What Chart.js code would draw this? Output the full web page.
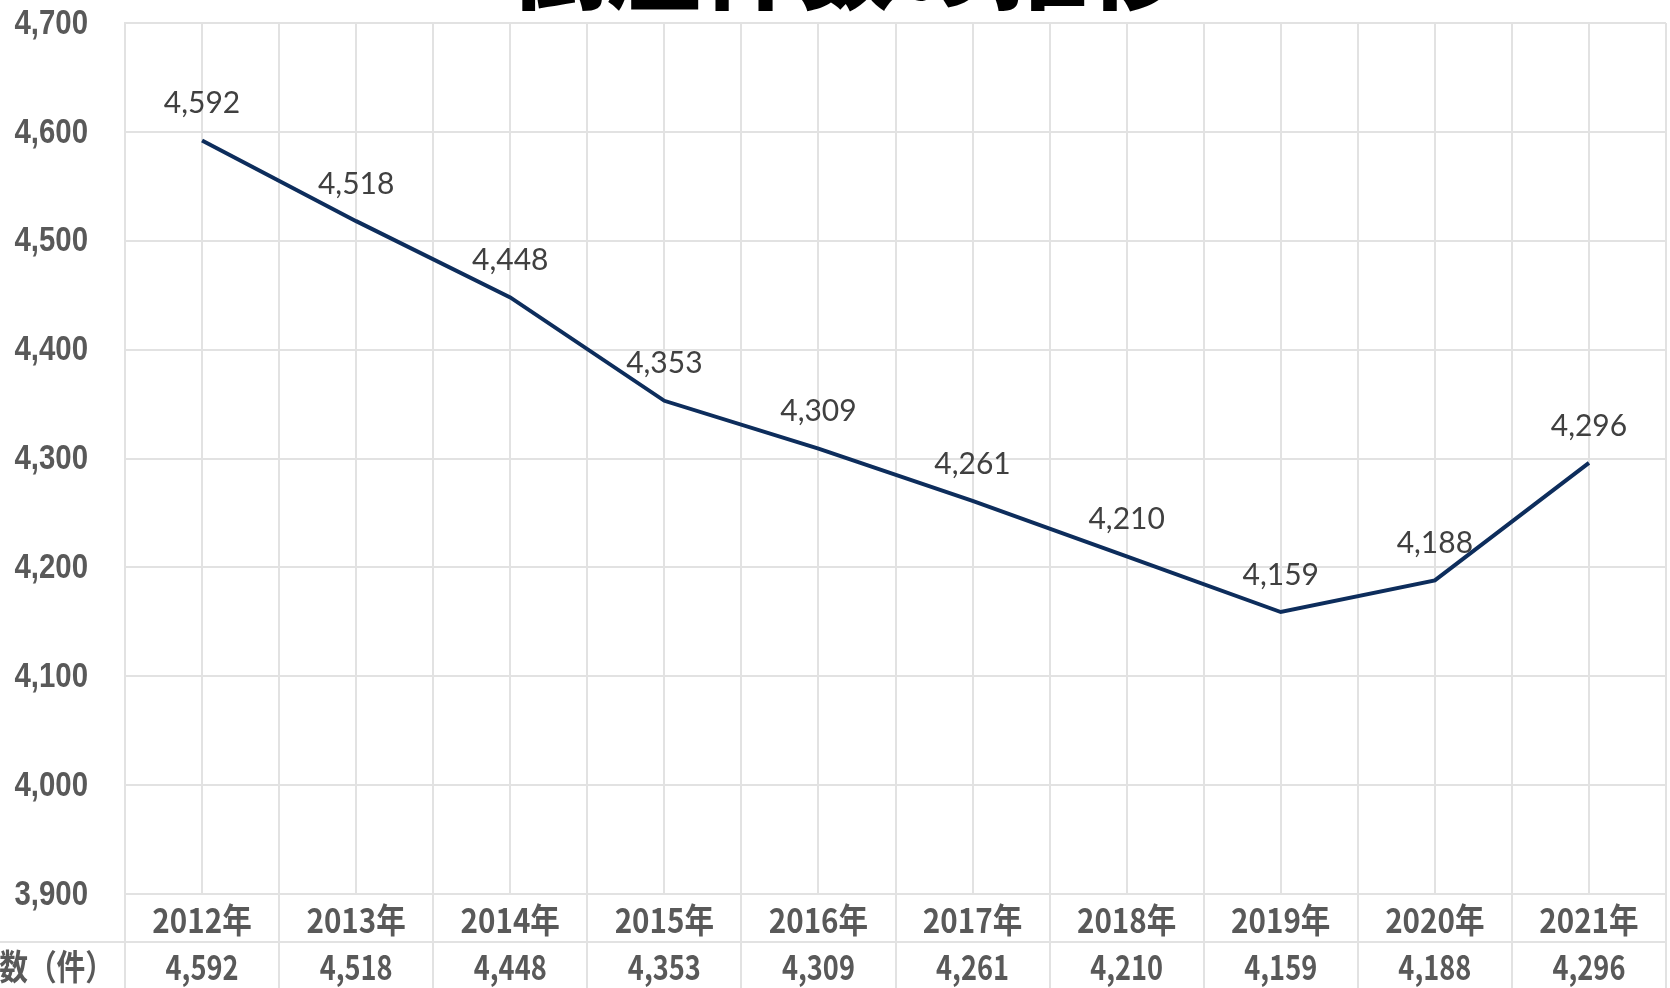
<!DOCTYPE html>
<html>
<head>
<meta charset="utf-8">
<script src="https://cdn.jsdelivr.net/npm/chart.js@4"></script>
<style>
html,body{margin:0;padding:0;background:#fff;}
#wrap{width:1670px;height:988px;position:relative;}
</style>
</head>
<body>
<div id="wrap"><canvas id="c"></canvas></div>
<script>
const titleText = '倒産件数の推移';
const categories = ['2012年','2013年','2014年','2015年','2016年','2017年','2018年','2019年','2020年','2021年'];
const values = [4592,4518,4448,4353,4309,4261,4210,4159,4188,4296];
const tableHeader = '件数（件）';
const yMin = 3900, yMax = 4700, yStep = 100;

const fmt = v => v.toLocaleString('en-US');
const gridColor = '#e2e2e2';
const textGray = '#595959';

const labelPlugin = {
  id: 'valueLabels',
  afterDatasetsDraw(chart) {
    const ctx = chart.ctx;
    const meta = chart.getDatasetMeta(0);
    ctx.save();
    ctx.font = "400 30px Lato, 'Open Sans', sans-serif";
    ctx.fillStyle = '#404040';
    ctx.textAlign = 'center';
    ctx.textBaseline = 'middle';
    meta.data.forEach((pt, i) => {
      ctx.fillText(fmt(values[i]), pt.x, pt.y - 37);
    });
    ctx.restore();
  }
};

const yLabelPlugin = {
  id: 'yLabels',
  afterDraw(chart) {
    const ctx = chart.ctx;
    const ys = chart.scales.y;
    ctx.save();
    ctx.fillStyle = textGray;
    ctx.textAlign = 'right';
    ctx.textBaseline = 'middle';
    ctx.font = "bold 35px 'Liberation Sans', Arial, sans-serif";
    ys.ticks.forEach(t => {
      const y = ys.getPixelForValue(t.value);
      ctx.save();
      ctx.translate(88, y + 1);
      ctx.scale(0.84, 1);
      ctx.fillText(fmt(t.value), 0, 0);
      ctx.restore();
    });
    ctx.restore();
  }
};

const tablePlugin = {
  id: 'dataTable',
  afterDraw(chart) {
    const ctx = chart.ctx;
    const xs = chart.scales.x;
    const area = chart.chartArea;
    const top = area.bottom;
    const mid = top + 48;
    const bottom = chart.height;
    ctx.save();
    ctx.strokeStyle = gridColor;
    ctx.lineWidth = 2;
    ctx.beginPath();
    ctx.moveTo(area.left, top); ctx.lineTo(area.right, top);
    ctx.moveTo(0, mid); ctx.lineTo(area.right, mid);
    for (let i = 0; i <= categories.length; i++) {
      const x = Math.round(xs.getPixelForValue(i - 0.5));
      ctx.moveTo(x, top); ctx.lineTo(x, bottom);
    }
    ctx.stroke();

    ctx.fillStyle = textGray;
    ctx.textAlign = 'center';
    ctx.textBaseline = 'middle';
    ctx.font = "bold 34px 'Noto Sans CJK JP', sans-serif";
    categories.forEach((c, i) => {
      const x = xs.getPixelForValue(i);
      ctx.save();
      ctx.translate(x, (top + mid) / 2 + 2);
      ctx.scale(0.87, 1);
      ctx.fillText(c, 0, 0);
      ctx.restore();
      ctx.save();
      ctx.translate(x, (mid + bottom) / 2 + 2);
      ctx.scale(0.8, 1);
      ctx.fillText(fmt(values[i]), 0, 0);
      ctx.restore();
    });
    ctx.save();
    ctx.textAlign = 'right';
    ctx.translate(114, (mid + bottom) / 2 + 2);
    ctx.scale(0.82, 1);
    ctx.font = "bold 35px 'Noto Sans CJK JP', sans-serif";
    ctx.fillText(tableHeader, 0, 0);
    ctx.restore();

    ctx.fillStyle = '#000';
    ctx.textAlign = 'center';
    ctx.textBaseline = 'alphabetic';
    ctx.font = "900 96px 'Noto Sans CJK JP', sans-serif";
    ctx.fillText(titleText, 847, 1);
    ctx.restore();
  }
};

new Chart(document.getElementById('c'), {
  type: 'line',
  data: {
    datasets: [{
      data: values.map((v, i) => ({x: i, y: v})),
      borderColor: '#0d2d5c',
      borderWidth: 4,
      pointRadius: 0,
      pointHoverRadius: 0,
      tension: 0,
      fill: false
    }]
  },
  options: {
    responsive: true,
    maintainAspectRatio: false,
    animation: false,
    events: [],
    layout: {padding: {top: 23, bottom: 94, right: 4, left: 0}},
    plugins: {legend: {display: false}, tooltip: {enabled: false}},
    scales: {
      x: {
        type: 'linear',
        min: -0.5,
        max: 9.5,
        ticks: {display: false, stepSize: 0.5},
        grid: {color: gridColor, lineWidth: 2, drawTicks: false},
        border: {display: false},
        afterFit(scale) { scale.height = 0; scale.paddingLeft = 0; scale.paddingRight = 0; }
      },
      y: {
        min: yMin,
        max: yMax,
        ticks: {stepSize: yStep, display: false},
        grid: {color: gridColor, lineWidth: 2, drawTicks: false},
        border: {display: true, color: gridColor, width: 2},
        afterFit(scale) { scale.width = 125; scale.paddingTop = 0; scale.paddingBottom = 0; }
      }
    }
  },
  plugins: [labelPlugin, yLabelPlugin, tablePlugin]
});
</script>
</body>
</html>
